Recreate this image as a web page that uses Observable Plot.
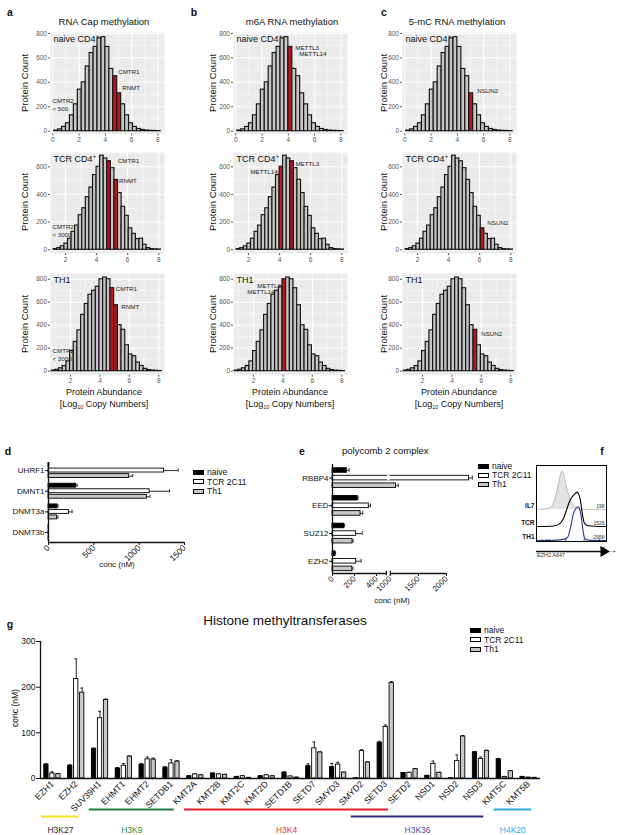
<!DOCTYPE html>
<html><head><meta charset="utf-8">
<script src="https://cdn.jsdelivr.net/npm/d3@7"></script>
<script src="https://cdn.jsdelivr.net/npm/@observablehq/plot@0.6"></script>
<style>
html,body{margin:0;padding:0;background:#fff;}
#root{position:relative;width:617px;height:835px;overflow:hidden;font-family:"Liberation Sans",Arial,Helvetica,sans-serif;color:#111;}
#root svg{overflow:visible;}
.t{position:absolute;white-space:nowrap;line-height:1;}
.t sub{font-size:60%;vertical-align:-2px;line-height:0;}
</style></head><body><div id="root"></div>
<script>
// ================= DATA =================
// Proteome histograms: protein counts per bin of log10 copy number
const naiveStart = 0.1, naiveWidth = 0.3;
const naiveCounts = [5, 15, 35, 65, 130, 220, 340, 400, 530, 640, 690, 760, 770, 690, 510, 450, 310, 220, 130, 65, 35, 18, 10, 5, 3, 2, 1];
const tcrStart = 1.24, tcrWidth = 0.23;
const tcrCounts = [5, 12, 25, 45, 80, 130, 175, 250, 300, 380, 450, 540, 600, 680, 660, 640, 590, 505, 410, 310, 245, 155, 115, 77, 80, 36, 12, 5, 3, 2];
const th1Start = 0.72, th1Width = 0.25;
const th1Counts = [5, 12, 25, 45, 85, 175, 255, 355, 490, 585, 665, 700, 735, 800, 815, 800, 722, 574, 400, 360, 225, 145, 130, 75, 45, 20, 10, 5, 3, 1];

// highlighted proteins (log10 copy numbers)
const capNames = ["CMTR1", "RNMT"];
const capNaive = [4.75, 5.05], capTCR = [4.8, 5.27], capTH1 = [4.85, 5.1];
const cmtr2Notes = ["CMTR2\n< 500", "CMTR2\n< 3000", "CMTR2\n< 3000"];
const m6aNames = ["METTL3", "METTL14"];
const m6aNaive = [4.15, 4.15], m6aTCR = [4.8, 4.12], m6aTH1 = [4.1, 4.1];
const m5cNames = ["NSUN2"];
const m5cNaive = [5.05], m5cTCR = [6.1], m5cTH1 = [5.6];

// bar-chart series
const SERIES = ["naive", "TCR 2C11", "Th1"];

// d: DNA methyltransferases (nM)
const dCats = ["UHRF1", "DMNT1", "DNMT3a", "DNMT3b"];
const dNaive = [10, 305, 100, 2], dNaiveErr = [0, 12, 6, 0];
const dTCR = [1275, 1115, 225, 2], dTCRErr = [155, 220, 35, 0];
const dTh1 = [890, 1085, 95, 2], dTh1Err = [40, 35, 10, 0];
const dTicks = [0, 500, 1000, 1500];

// e: polycomb 2 complex (nM)
const eCats = ["RBBP4", "EED", "SUZ12", "EZH2"];
const eNaive = [130, 228, 105, 25], eNaiveErr = [20, 5, 5, 3];
const eTCR = [2400, 330, 215, 215], eTCRErr = [60, 15, 55, 45];
const eTh1 = [1100, 255, 182, 180], eTh1Err = [40, 20, 5, 5];
const eTicks = [0, 200, 400, 1000, 1500, 2000];

// f: EZH2 flow cytometry histograms (% of mode vs channel)
const fNames = ["IL7", "TCR", "TH1"];
const fMFI = ["198", "1526", "2958"];
const flowIL7 = [[0,0],[15,1],[20,4],[23,10],[27,28],[31,60],[34,85],[36.5,100],[39,90],[42,62],[45,40],[48,26],[51,15],[54,8],[58,3],[64,1],[70,0],[100,0]];
const flowTCR = [[0,0],[28,0],[34,8],[39,22],[44,55],[48.5,79],[53,90],[56,96],[58,100],[60.5,93],[63,74],[65,41],[67.5,12],[70,0],[100,0]];
const flowTH1 = [[0,0],[43,0],[46,15],[49,40],[51,64],[53,82],[55.7,93],[58,98],[60.5,100],[62,90],[63.8,74],[65.5,45],[66.7,24],[68.5,6],[70,0],[100,0]];

// g: Histone methyltransferases (nM)
const gCats = ["EZH1","EZH2","SUV39H1","EHMT1","EHMT2","SETDB1","KMT2A","KMT2B","KMT2C","KMT2D","SETD1B","SETD7","SMYD3","SMYD2","SETD3","SETD2","NSD1","NSD2","NSD3","KMT5C","KMT5B"];
const gNaive =    [30.5, 28, 65, 22, 30.5, 24, 5, 11, 3.6, 5, 13, 27, 25, 0.7, 78.5, 12, 6, 0.7, 57.5, 42, 3.6];
const gNaiveErr = [2, 2, 1.5, 2, 2, 2, 1, 1, 0.5, 1, 1.5, 5, 8, 0, 3, 1, 0.5, 0, 1, 2, 0.5];
const gTCR =      [11, 218, 132, 28, 42, 33, 9, 9, 5, 7, 4.5, 66, 30.5, 60, 113, 12.5, 32, 38.5, 43, 3.6, 2];
const gTCRErr =   [3.5, 44, 15, 5, 5, 8, 1, 1, 1, 1, 0.5, 14, 5, 3, 4, 1, 6, 13, 4, 0.5, 0.3];
const gTh1 =      [9.5, 188, 172, 48, 41.5, 37, 7, 8, 1.5, 5, 2, 57, 13, 35, 209, 20.5, 12.5, 92, 60, 16, 1.5];
const gTh1Err =   [1.5, 10, 2, 1.5, 3, 2, 1, 1, 0.3, 0.5, 0.5, 1.5, 1, 1.5, 3, 1.5, 1, 2, 2, 1.5, 0.3];
const gTicks = [0, 100, 200, 300];
const bracketNames = ["H3K27", "H3K9", "H3K4", "H3K36", "H4K20"];
const bracketFirst = ["EZH1", "SUV39H1", "KMT2A", "SMYD2", "KMT5C"];
const bracketLast = ["EZH2", "SETDB1", "SETD3", "NSD3", "KMT5B"];

// ================= STYLE / HELPERS =================
const FONT = '"Liberation Sans", Arial, Helvetica, sans-serif';
const RED = "#c0141c", BARGREY = "#c6c6c6";
const SERIES_FILL = ["#000000", "#ffffff", "#c8c8c8"];
const root = document.getElementById("root");

function txt(html, x, y, o = {}) {
  const d = document.createElement("div");
  d.className = "t";
  d.innerHTML = html;
  d.style.left = x + "px"; d.style.top = y + "px";
  d.style.fontSize = (o.size || 9) + "px";
  d.style.fontWeight = o.weight || "normal";
  d.style.color = o.color || "#111";
  const a = o.anchor || "middle";
  const tx = a === "start" ? "0" : a === "end" ? "-100%" : "-50%";
  d.style.transform = `translate(${tx},-50%)` + (o.rotate ? ` rotate(${o.rotate}deg)` : "");
  if (o.rotate) d.style.transformOrigin = "50% 50%";
  root.appendChild(d);
  return d;
}
function place(el, left, top) {
  el.style.position = "absolute"; el.style.left = left + "px"; el.style.top = top + "px";
  root.appendChild(el);
}
function legend(x, y, gap, size) {
  SERIES.forEach((s, j) => {
    const sq = document.createElement("div");
    sq.style.cssText = `position:absolute;left:${x}px;top:${y + j * gap - 2.5}px;width:11px;height:5px;background:${SERIES_FILL[j]};border:1px solid #000;box-sizing:border-box;`;
    root.appendChild(sq);
    txt(s, x + 14, y + j * gap, {size, anchor: "start"});
  });
}

// ================= HISTOGRAMS (a, b, c) =================
const ROWS = [
  {key: "naive", counts: naiveCounts, start: naiveStart, width: naiveWidth, cond: "naive CD4⁺",
   xDomain: [-0.18, 8.5], yDomain: [-23, 808], yTicks: [0,200,400,600,800], yMinor: [100,300,500,700], top: 32, ph: 101.5, noteDy: -23.5},
  {key: "tcr", counts: tcrCounts, start: tcrStart, width: tcrWidth, cond: "TCR CD4⁺",
   xDomain: [1.035, 8.37], yDomain: [-27, 703], yTicks: [0,200,400,600], yMinor: [100,300,500,700], top: 151.7, ph: 101, noteDy: -17},
  {key: "th1", counts: th1Counts, start: th1Start, width: th1Width, cond: "TH1",
   xDomain: [0.64, 8.39], yDomain: [-35, 850], yTicks: [0,200,400,600,800], yMinor: [100,300,500,700], top: 273.3, ph: 101.7, noteDy: -14}
];
const PANELS = [
  {left: 50, names: capNames, values: {naive: capNaive, tcr: capTCR, th1: capTH1}, notes: cmtr2Notes,
   style: {naive: [{side:"r",dx:1,dy:-4},{side:"r",dx:1,dy:-5}],
           tcr:   [{side:"r",dx:7,dy:0},{side:"r",dx:1,dy:1}],
           th1:   [{side:"r",dx:1.5,dy:1},{side:"r",dx:3.5,dy:2}]}},
  {left: 233, names: m6aNames, values: {naive: m6aNaive, tcr: m6aTCR, th1: m6aTH1},
   style: {naive: [{side:"r",dx:3,dy:1.5},{side:"r",dx:7,dy:7.5}],
           tcr:   [{side:"r",dx:1.5,dy:2.5},{side:"l",dx:-2,dy:5}],
           th1:   [{side:"l",dx:-1.5,dy:7},{side:"l",dx:-8,dy:13}]}},
  {left: 402, names: m5cNames, values: {naive: m5cNaive, tcr: m5cTCR, th1: m5cTH1},
   style: {naive: [{side:"r",dx:4,dy:-2}], tcr: [{side:"r",dx:3,dy:-5}], th1: [{side:"r",dx:4,dy:4}]}}
];

function histogram(row, ri, panel) {
  const bins = row.counts.map((c, i) => ({x1: row.start + i * row.width, x2: row.start + (i + 1) * row.width, y0: 0, c}));
  const inBin = (v, b) => v >= b.x1 && v < b.x2;
  const vals = panel.values[row.key];
  bins.forEach(b => b.red = vals.some(v => inBin(v, b)));
  const ML = 30, MR = 4, MT = 3, MB = 13;
  const xt = [0,2,4,6,8].filter(t => t >= row.xDomain[0] && t <= row.xDomain[1]);
  const xm = [1,3,5,7].filter(t => t >= row.xDomain[0] && t <= row.xDomain[1]);
  const ym = row.yMinor.filter(t => t <= row.yDomain[1]);
  const marks = [
    Plot.frame({fill: "#ebebeb", stroke: "none"}),
    Plot.gridX(xm, {stroke: "#fff", strokeOpacity: 1, strokeWidth: 0.45}),
    Plot.gridY(ym, {stroke: "#fff", strokeOpacity: 1, strokeWidth: 0.45}),
    Plot.gridX(xt, {stroke: "#fff", strokeOpacity: 1, strokeWidth: 0.95}),
    Plot.gridY(row.yTicks, {stroke: "#fff", strokeOpacity: 1, strokeWidth: 0.95}),
    Plot.rect(bins, {x1: "x1", x2: "x2", y1: "y0", y2: "c", fill: d => d.red ? RED : BARGREY, stroke: "#141414", strokeWidth: 1.15}),
    Plot.axisX(xt, {tickSize: 2, tickPadding: 1.5, fontSize: 6.5, color: "#555", label: null}),
    Plot.axisY(row.yTicks, {tickSize: 2, tickPadding: 1.5, fontSize: 6.5, color: "#555", label: null}),
    Plot.text([row.cond], {text: d => d, frameAnchor: "top-left", dx: 3, dy: 3, lineAnchor: "top", textAnchor: "start", fontSize: 9, fill: "#111"})
  ];
  panel.names.forEach((name, j) => {
    const v = vals[j];
    const b = bins.find(bb => inBin(v, bb));
    const s = panel.style[row.key][j];
    marks.push(Plot.text([{name, x: s.side === "l" ? b.x1 : b.x2, y: b.c}], {
      x: "x", y: "y", text: "name", dx: s.dx, dy: s.dy, textAnchor: s.side === "l" ? "end" : "start",
      fontSize: 6.2, fill: "#222"}));
  });
  if (panel.notes) {
    marks.push(Plot.text([panel.notes[ri]], {text: d => d, frameAnchor: "bottom-left", dx: 2, dy: row.noteDy,
      lineAnchor: "bottom", textAnchor: "start", lineHeight: 1.25, fontSize: 6.2, fill: "#222"}));
  }
  const svg = Plot.plot({
    width: ML + 114 + MR, height: MT + row.ph + MB,
    marginLeft: ML, marginRight: MR, marginTop: MT, marginBottom: MB,
    x: {domain: row.xDomain, axis: null}, y: {domain: row.yDomain, axis: null},
    style: {fontFamily: FONT, background: "none", overflow: "visible"},
    marks
  });
  place(svg, panel.left - ML, row.top - MT);
}
PANELS.forEach(p => ROWS.forEach((r, ri) => histogram(r, ri, p)));

// titles & labels for a-c
txt("a", 10, 12, {size: 10.5, weight: "bold"});
txt("b", 194, 12, {size: 10.5, weight: "bold"});
txt("c", 384, 12, {size: 10.5, weight: "bold"});
txt("RNA Cap methylation", 104, 22, {size: 9.5});
txt("m6A RNA methylation", 292, 22, {size: 9.5});
txt("5-mC RNA methylation", 457, 22, {size: 9.5});
const ylabX = [25, 213, 384];
ylabX.forEach(x => ROWS.forEach(r => txt("Protein Count", x, r.top + r.ph / 2, {size: 9.5, rotate: -90})));
[104, 290, 459].forEach(x => {
  txt("Protein Abundance", x, 392, {size: 9});
  txt("[Log<sub>10</sub> Copy Numbers]", x, 403.5, {size: 9});
});

// ================= HORIZONTAL GROUPED BARS (d, e) =================
function hbars(cfg) {
  const fx = cfg.fx || (v => v);
  const rows = [];
  cfg.cats.forEach((cat, i) => SERIES.forEach((s, j) => {
    const v = cfg.vals[j][i], e = cfg.errs[j][i];
    const c = i + (j - 1) * cfg.off;
    rows.push({i, j, zero: 0, v: fx(v), ve: fx(v + e), e, y1: c - cfg.bh / 2, y2: c + cfg.bh / 2, c, c1: c - cfg.cap, c2: c + cfg.cap});
  }));
  const eb = rows.filter(r => r.e > 0);
  const marks = [
    Plot.rect(rows, {x1: "zero", x2: "v", y1: "y1", y2: "y2", fill: d => SERIES_FILL[d.j], stroke: "#000", strokeWidth: 0.9}),
    ...(cfg.extra || []),
    Plot.ruleY(eb, {y: "c", x1: "v", x2: "ve", strokeWidth: 0.9}),
    Plot.ruleX(eb, {x: "ve", y1: "c1", y2: "c2", strokeWidth: 0.9}),
    Plot.ruleX([0], {strokeWidth: 1.3}),
    ...(cfg.xline || [Plot.ruleY([cfg.yDomain[0]], {strokeWidth: 1.3})]),
    Plot.axisY(d3.range(cfg.cats.length), {tickFormat: i => cfg.cats[i], tickSize: 3, tickPadding: 1, fontSize: 8, label: null, strokeWidth: 1}),
    Plot.axisX(cfg.ticks.map(fx), {tickRotate: -45, tickSize: 3, tickPadding: 1, fontSize: cfg.tickFont || 8.5, label: null,
      tickFormat: (d, k) => String(cfg.ticks[k])})
  ];
  const svg = Plot.plot({
    width: cfg.width, height: cfg.height,
    marginLeft: cfg.ml, marginRight: cfg.mr, marginTop: cfg.mt, marginBottom: cfg.mb,
    x: cfg.x, y: {domain: cfg.yDomain, axis: null},
    style: {fontFamily: FONT, background: "none", overflow: "visible"},
    marks
  });
  place(svg, cfg.left, cfg.top);
}

// d
hbars({cats: dCats, vals: [dNaive, dTCR, dTh1], errs: [dNaiveErr, dTCRErr, dTh1Err],
  off: 0.267, bh: 0.19, cap: 0.08, ticks: dTicks, tickFont: 8.5,
  left: 0, top: 455, width: 194, height: 112, ml: 48, mr: 10, mt: 7, mb: 25,
  x: {domain: [0, 1500], axis: null}, yDomain: [3.48, -0.39]});
txt("d", 8, 451, {size: 10.5, weight: "bold"});
txt("conc (nM)", 117, 565, {size: 8});
legend(193, 472, 9.5, 8.5);

// e (broken axis: 0–490 then 1000–2000 compressed)
const BRK1 = 490, BRK2 = 1000, GAP = 36, K2 = 0.51;
const brk = v => v <= BRK1 ? v : v >= BRK2 ? BRK1 + GAP + (v - BRK2) * K2 : BRK1 + GAP * (v - BRK1) / (BRK2 - BRK1);
const eLeft = 274, eML = 58, eMR = 18, eW = eML + 114 + eMR;
const eBottom = 3.44;
hbars({cats: eCats, vals: [eNaive, eTCR, eTh1], errs: [eNaiveErr, eTCRErr, eTh1Err], fx: brk,
  off: 0.274, bh: 0.165, cap: 0.07, ticks: eTicks, tickFont: 8,
  left: eLeft, top: 455, width: eW, height: 143, ml: eML, mr: eMR, mt: 9, mb: 25,
  x: {domain: [0, brk(2000)], axis: null}, yDomain: [eBottom, -0.49],
  extra: [Plot.rect([{x1: brk(BRK1) + 11, x2: brk(BRK2) - 2, y1: -0.1, y2: 0.1}], {x1: "x1", x2: "x2", y1: "y1", y2: "y2", fill: "#fff"})],
  xline: [
    Plot.ruleY([{x1: 0, x2: brk(BRK1), y: eBottom}, {x1: brk(BRK2), x2: brk(2000), y: eBottom}], {x1: "x1", x2: "x2", y: "y", strokeWidth: 1.3}),
    Plot.ruleX([brk(BRK1), brk(BRK2)], {y1: eBottom - 0.08, y2: eBottom + 0.08, strokeWidth: 1.2})
  ]});
txt("e", 302, 451, {size: 10.5, weight: "bold"});
txt("polycomb 2 complex", 342, 451, {size: 9.5, anchor: "start"});
txt("conc (nM)", 392, 601, {size: 8});
legend(478, 466, 9, 8.5);

// ================= FLOW (f) =================
(function () {
  const base = {IL7: 32, TCR: 15, TH1: 1};
  const amp = {IL7: 0.40, TCR: 0.35, TH1: 0.34};
  const mk = (arr, name) => arr.map(([x, v]) => ({x, b: base[name], y: base[name] + v * amp[name]}));
  const il7 = mk(flowIL7, "IL7"), tcr = mk(flowTCR, "TCR"), th1 = mk(flowTH1, "TH1");
  const lab = fNames.map((n, i) => ({n, m: fMFI[i], y: base[n] + 2}));
  const svg = Plot.plot({
    width: 90, height: 95, marginLeft: 6, marginRight: 14, marginTop: 5, marginBottom: 14,
    x: {domain: [0, 100], axis: null}, y: {domain: [0, 76], axis: null},
    style: {fontFamily: FONT, background: "none", overflow: "visible"},
    marks: [
      Plot.areaY(il7, {x: "x", y1: "b", y2: "y", fill: "#e2e2e2", curve: "basis"}),
      Plot.line(il7, {x: "x", y: "y", stroke: "#bdbdbd", strokeWidth: 1, curve: "basis"}),
      Plot.line(tcr, {x: "x", y: "y", stroke: "#000", strokeWidth: 1.1, curve: "basis"}),
      Plot.line(th1, {x: "x", y: "y", stroke: "#2b3a8f", strokeWidth: 1.1, curve: "basis"}),
      Plot.frame({stroke: "#000", strokeWidth: 1}),
      Plot.text(lab, {text: "m", y: "y", frameAnchor: "right", dx: -2, textAnchor: "end", lineAnchor: "bottom", fontSize: 5, fill: "#333"}),
      Plot.text(lab, {text: "n", y: "y", frameAnchor: "left", dx: -2, textAnchor: "end", lineAnchor: "bottom", fontSize: 6.5, fill: "#111", fontWeight: "bold"}),
      Plot.axisX([8, 14, 18, 42, 68, 90], {tickSize: -2, tickFormat: () => "", strokeWidth: 0.7}),
      Plot.ruleY([-10], {x1: 0, x2: 93, strokeWidth: 1.4}),
      Plot.dot([{x: 96, y: -10}], {x: "x", y: "y", symbol: "triangle", rotate: 90, r: 4, fill: "#000", stroke: "none"})
    ]
  });
  place(svg, 530, 460);
})();
txt("f", 602, 451, {size: 10.5, weight: "bold"});
txt("EZH2 A647", 537, 556, {size: 5.5, anchor: "start", color: "#333"});

// ================= GROUPED VERTICAL BARS (g) =================
(function () {
  const vals = [gNaive, gTCR, gTh1], errs = [gNaiveErr, gTCRErr, gTh1Err];
  const rows = [];
  gCats.forEach((cat, i) => SERIES.forEach((s, j) => {
    const v = vals[j][i], e = errs[j][i];
    const c = i + (j - 1) * 0.252;
    rows.push({j, zero: 0, v, ve: v + e, e, x1: c - 0.09, x2: c + 0.09, c, c1: c - 0.06, c2: c + 0.06});
  }));
  const eb = rows.filter(r => r.e > 0);
  const svg = Plot.plot({
    width: 550, height: 180, marginLeft: 40, marginRight: 10, marginTop: 11, marginBottom: 32,
    x: {domain: [-0.5, 20.5], axis: null}, y: {domain: [0, 300], axis: null},
    style: {fontFamily: FONT, background: "none", overflow: "visible"},
    marks: [
      Plot.ruleX(eb, {x: "c", y1: "v", y2: "ve", strokeWidth: 0.9}),
      Plot.ruleY(eb, {y: "ve", x1: "c1", x2: "c2", strokeWidth: 0.9}),
      Plot.rect(rows, {x1: "x1", x2: "x2", y1: "zero", y2: "v", fill: d => SERIES_FILL[d.j], stroke: "#000", strokeWidth: 0.9}),
      Plot.ruleX([-0.5], {strokeWidth: 1.3}),
      Plot.ruleY([0], {strokeWidth: 1.3}),
      Plot.axisY(gTicks, {tickSize: 4, tickPadding: 1, fontSize: 8.5, label: null}),
      Plot.axisX(d3.range(gCats.length), {tickFormat: i => gCats[i], tickRotate: -45, tickSize: 0, tickPadding: 4, fontSize: 8.8, label: null})
    ]
  });
  place(svg, 0, 630);

  // brackets
  const COLORS = ["#f3e21c", "#1f7a3d", "#e11f26", "#2d2c7c", "#29a8df"];
  const TCOL = ["#222", "#2a8a4a", "#e5323a", "#4b4b9b", "#3aa6e0"];
  const LEVEL = [1, 0, 0, 1, 0];
  const br = bracketNames.map((n, k) => {
    const a = gCats.indexOf(bracketFirst[k]) - 0.45, b = gCats.indexOf(bracketLast[k]) + 0.12;
    return {n, x1: a, x2: b, xm: (a + b) / 2, lv: LEVEL[k], col: COLORS[k], tcol: TCOL[k]};
  });
  const svg2 = Plot.plot({
    width: 550, height: 34, marginLeft: 40, marginRight: 10, marginTop: 0, marginBottom: 0,
    x: {domain: [-0.5, 20.5], axis: null}, y: {domain: [0, 1], range: [9, 16], axis: null},
    style: {fontFamily: FONT, background: "none", overflow: "visible"},
    marks: [
      Plot.ruleY(br, {x1: "x1", x2: "x2", y: "lv", stroke: "col", strokeWidth: 2}),
      Plot.text(br, {x: "xm", text: "n", frameAnchor: "bottom", dy: -2, fill: "tcol", fontSize: 8.5})
    ]
  });
  place(svg2, 0, 800);
})();
txt("g", 10, 624, {size: 10.5, weight: "bold"});
txt("Histone methyltransferases", 285, 621, {size: 13.5});
txt("conc (nM)", 15, 708, {size: 8.5, rotate: -90});
legend(470, 630, 9.5, 8.5);
</script></body></html>
